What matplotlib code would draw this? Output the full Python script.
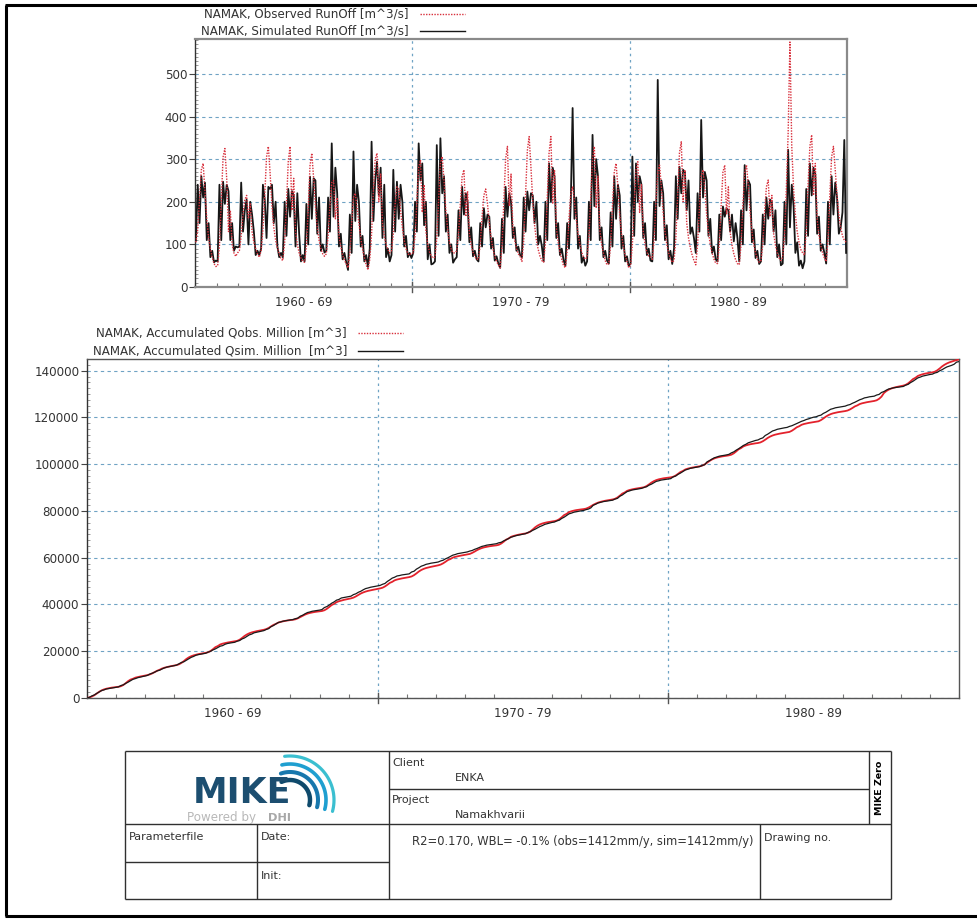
import numpy as np
import matplotlib
matplotlib.use("Agg")
import matplotlib.pyplot as plt
from matplotlib import transforms
from matplotlib.ticker import MultipleLocator

plt.rcParams["font.family"] = ["DejaVu Sans"]

# ---------------------------------------------------------------------------
# Data: monthly mean runoff at NAMAK [m^3/s], one row per year (Jan..Dec)
# ---------------------------------------------------------------------------
years = list(range(1960, 1990))
decade_labels = ["1960 - 69", "1970 - 79", "1980 - 89"]

obs_runoff = [
    [105, 135, 205, 275, 290, 225, 160, 115, 90, 70, 55, 48],    # 1960
    [50, 95, 200, 305, 325, 255, 130, 180, 100, 80, 72, 80],     # 1961
    [85, 120, 170, 205, 215, 160, 195, 130, 105, 90, 78, 70],    # 1962
    [85, 135, 215, 305, 330, 265, 190, 140, 110, 92, 78, 66],    # 1963
    [62, 105, 195, 295, 330, 180, 255, 130, 100, 80, 68, 60],    # 1964
    [58, 95, 180, 285, 314, 255, 190, 140, 110, 90, 78, 72],     # 1965
    [78, 120, 190, 245, 250, 160, 210, 120, 95, 75, 62, 55],     # 1966
    [45, 80, 150, 210, 220, 185, 150, 115, 90, 70, 52, 40],      # 1967
    [65, 125, 225, 300, 314, 200, 265, 150, 120, 100, 88, 80],   # 1968
    [85, 125, 195, 235, 230, 180, 140, 110, 90, 78, 75, 80],     # 1969
    [80, 120, 200, 280, 298, 175, 240, 130, 100, 82, 72, 68],    # 1970
    [70, 115, 205, 290, 306, 250, 180, 135, 105, 88, 80, 80],    # 1971
    [85, 125, 195, 260, 275, 165, 225, 125, 98, 82, 72, 65],     # 1972
    [65, 100, 165, 215, 230, 195, 150, 115, 90, 72, 60, 52],     # 1973
    [45, 95, 200, 300, 330, 190, 265, 140, 110, 90, 78, 72],     # 1974
    [60, 110, 215, 320, 353, 280, 200, 145, 110, 88, 72, 62],    # 1975
    [58, 105, 210, 315, 353, 195, 275, 140, 105, 82, 65, 50],    # 1976
    [45, 85, 160, 220, 235, 200, 160, 125, 100, 82, 70, 65],     # 1977
    [70, 120, 210, 300, 330, 185, 260, 135, 100, 80, 62, 52],    # 1978
    [55, 100, 190, 270, 290, 235, 170, 125, 95, 75, 60, 45],     # 1979
    [50, 100, 195, 275, 294, 175, 240, 130, 100, 82, 72, 70],    # 1980
    [65, 110, 200, 270, 286, 235, 175, 130, 100, 80, 66, 58],    # 1981
    [62, 115, 215, 315, 341, 200, 275, 150, 115, 92, 75, 62],    # 1982
    [52, 100, 185, 260, 275, 230, 170, 128, 100, 80, 66, 56],    # 1983
    [55, 100, 190, 270, 286, 172, 235, 128, 98, 78, 64, 55],     # 1984
    [52, 100, 190, 268, 286, 238, 176, 130, 100, 80, 65, 58],    # 1985
    [62, 100, 175, 235, 251, 165, 215, 125, 98, 80, 68, 62],     # 1986
    [70, 120, 230, 360, 575, 330, 230, 170, 130, 105, 88, 80],   # 1987
    [75, 130, 240, 330, 357, 215, 290, 160, 122, 98, 80, 68],    # 1988
    [60, 110, 215, 305, 330, 275, 215, 170, 140, 120, 110, 105], # 1989
]

sim_runoff = [
    [110, 240, 150, 260, 210, 245, 110, 150, 70, 85, 58, 62],    # 1960
    [60, 240, 110, 247, 195, 240, 225, 110, 150, 85, 95, 93],    # 1961
    [95, 245, 130, 180, 205, 100, 200, 170, 130, 75, 85, 75],    # 1962
    [90, 240, 205, 115, 235, 230, 240, 150, 200, 95, 70, 80],    # 1963
    [70, 200, 120, 230, 165, 225, 215, 95, 220, 125, 60, 75],    # 1964
    [60, 195, 100, 259, 160, 255, 250, 125, 210, 85, 100, 81],   # 1965
    [85, 210, 130, 337, 165, 280, 220, 95, 125, 65, 80, 58],     # 1966
    [40, 170, 80, 318, 155, 240, 200, 95, 120, 60, 75, 47],      # 1967
    [90, 341, 155, 250, 294, 215, 280, 115, 240, 70, 90, 60],    # 1968
    [75, 275, 130, 247, 160, 240, 200, 95, 120, 70, 80, 68],     # 1969
    [80, 200, 130, 337, 250, 290, 145, 200, 65, 100, 53, 55],    # 1970
    [60, 333, 120, 349, 220, 260, 130, 170, 80, 100, 57, 65],    # 1971
    [70, 180, 110, 235, 170, 220, 200, 105, 140, 72, 85, 65],    # 1972
    [60, 150, 95, 185, 140, 170, 165, 90, 115, 62, 72, 55],      # 1973
    [45, 160, 80, 235, 165, 220, 200, 115, 140, 85, 95, 75],     # 1974
    [70, 210, 130, 224, 180, 220, 215, 150, 200, 100, 120, 96],  # 1975
    [60, 200, 110, 290, 200, 280, 260, 115, 150, 75, 90, 63],    # 1976
    [50, 150, 90, 200, 420, 160, 210, 90, 120, 57, 70, 50],      # 1977
    [60, 200, 110, 357, 190, 300, 260, 110, 140, 70, 85, 62],    # 1978
    [55, 175, 95, 259, 160, 240, 215, 90, 120, 60, 72, 49],      # 1979
    [55, 306, 120, 290, 200, 260, 240, 115, 150, 75, 90, 62],    # 1980
    [60, 200, 110, 486, 190, 250, 220, 110, 145, 65, 85, 54],    # 1981
    [90, 260, 160, 282, 220, 275, 270, 180, 250, 125, 140, 115], # 1982
    [80, 220, 130, 392, 210, 270, 250, 120, 160, 80, 95, 65],    # 1983
    [60, 170, 110, 189, 165, 185, 180, 130, 170, 107, 150, 115], # 1984
    [60, 180, 100, 286, 180, 250, 240, 105, 135, 68, 85, 54],    # 1985
    [60, 170, 100, 210, 160, 205, 200, 130, 180, 70, 100, 51],   # 1986
    [55, 200, 100, 322, 140, 240, 190, 80, 105, 50, 62, 44],     # 1987
    [60, 230, 120, 290, 215, 280, 265, 125, 165, 85, 100, 80],   # 1988
    [55, 200, 100, 260, 170, 245, 210, 125, 140, 175, 345, 80],  # 1989
]

runoff_ticks = [0, 100, 200, 300, 400, 500]
volume_ticks = [0, 20000, 40000, 60000, 80000, 100000, 120000, 140000]

stats_text = "R2=0.170, WBL= -0.1% (obs=1412mm/y, sim=1412mm/y)"

# ---------------------------------------------------------------------------
# Derived series
# ---------------------------------------------------------------------------
obs = np.array(obs_runoff, dtype=float).ravel()
sim = np.array(sim_runoff, dtype=float).ravel()
n = obs.size
t0 = years[0]
t_mid = t0 + (np.arange(n) + 0.5) / 12.0
t_edge = t0 + np.arange(n + 1) / 12.0

months = np.arange(f"{years[0]}-01", f"{years[-1] + 1}-01", dtype="datetime64[M]")
days = ((months + 1).astype("datetime64[D]") - months.astype("datetime64[D]")).astype(int)
to_mcm = days * 86400.0 / 1e6
acc_obs = np.concatenate([[0.0], np.cumsum(obs * to_mcm)])
acc_sim = np.concatenate([[0.0], np.cumsum(sim * to_mcm)])

# ---------------------------------------------------------------------------
# Figure
# ---------------------------------------------------------------------------
W, H = 978, 919
fig = plt.figure(figsize=(W / 100, H / 100), dpi=100)
fig.patch.set_facecolor("white")


def px_axes(x0, y0, x1, y1):
    return fig.add_axes([x0 / W, 1 - y1 / H, (x1 - x0) / W, (y1 - y0) / H])


TXT = "#333333"
GRID = "#6fa3c4"
FS = 8.6
x_lo, x_hi = years[0], years[-1] + 1
decade_edges = list(range(x_lo, x_hi + 1, 10))
decade_mids = [d + 5 for d in decade_edges[:-1]]


def style_time_axis(ax, ymax, yticks, yminor, spine_col, spine_lw, height_px):
    ax.set_xlim(x_lo, x_hi)
    ax.set_ylim(0, ymax)
    ax.set_yticks(yticks)
    ax.yaxis.set_minor_locator(MultipleLocator(yminor))
    ax.set_xticks(decade_mids)
    ax.set_xticklabels(decade_labels)
    ax.xaxis.set_minor_locator(MultipleLocator(1))
    ax.tick_params(axis="x", which="major", length=0, pad=6.5, labelsize=FS, labelcolor=TXT)
    ax.tick_params(axis="x", which="minor", direction="in", length=3, color="#777777", width=0.8)
    ax.tick_params(axis="y", which="major", direction="out", length=4, pad=1.5,
                   labelsize=FS, labelcolor=TXT, color="#444444")
    ax.tick_params(axis="y", which="minor", direction="in", length=2, color="#888888", width=0.6)
    ax.yaxis.grid(True, which="major", color=GRID, linestyle=(0, (3, 3)), linewidth=0.8)
    ax.set_axisbelow(True)
    frac = 5.0 / height_px
    trans = transforms.blended_transform_factory(ax.transData, ax.transAxes)
    for d in decade_edges[1:-1]:
        ax.axvline(d, color=GRID, linestyle=(0, (2, 3)), linewidth=0.9, zorder=0.5)
        ax.plot([d, d], [-frac, frac], transform=trans, color="#555555",
                linewidth=1.0, clip_on=False)
    for side in ("top", "right", "bottom"):
        ax.spines[side].set_color(spine_col)
        ax.spines[side].set_linewidth(spine_lw)
    ax.spines["left"].set_color("#333333")
    ax.spines["left"].set_linewidth(1.0)


# --- upper panel: runoff -----------------------------------------------------
ax1 = px_axes(195, 39, 847, 287)
ax1.plot(t_mid, sim, color="#161616", linewidth=1.3, zorder=3)
ax1.plot(t_mid, obs, color="#d8303c", linewidth=1.0, linestyle=(0, (1, 1)), zorder=4)
style_time_axis(ax1, 582, runoff_ticks, 10, "#8a8a8a", 1.6, 248)

# --- lower panel: accumulated volumes ----------------------------------------
ax2 = px_axes(87, 359, 959, 698)
ax2.plot(t_edge, acc_obs, color="#e3222c", linewidth=1.3, zorder=3)
ax2.plot(t_edge, acc_sim, color="#1a1a1a", linewidth=0.9, zorder=4)
style_time_axis(ax2, 145000, volume_ticks, 2500, "#555555", 1.0, 339)

# --- overlay in pixel coordinates: legends, frame and title block ----------
ov = fig.add_axes([0, 0, 1, 1], zorder=10)
ov.set_xlim(0, W)
ov.set_ylim(H, 0)
ov.axis("off")
ov.patch.set_alpha(0)


def legend_row(x_text_right, y, label, x0, x1, color, ls, lw):
    ov.text(x_text_right, y, label, ha="right", va="center", fontsize=FS, color=TXT)
    ov.plot([x0, x1], [y, y], color=color, linestyle=ls, linewidth=lw)


legend_row(409, 14, "NAMAK, Observed RunOff [m^3/s]", 420, 465, "#d8303c", (0, (1, 1)), 1.0)
legend_row(409, 31, "NAMAK, Simulated RunOff [m^3/s]", 420, 465, "#161616", "-", 1.0)
legend_row(347, 333, "NAMAK, Accumulated Qobs. Million [m^3]", 358, 403, "#d8303c", (0, (1, 1)), 1.0)
legend_row(347, 351, "NAMAK, Accumulated Qsim. Million  [m^3]", 358, 403, "#161616", "-", 1.0)

# page frame
ov.plot([6, 6], [5, 916], color="black", linewidth=2.2, solid_capstyle="butt")
ov.plot([5, 978], [5, 5], color="black", linewidth=2.2, solid_capstyle="butt")
ov.plot([5, 978], [916, 916], color="black", linewidth=2.2, solid_capstyle="butt")

# title block grid
LC = "#303030"
def seg(x0, y0, x1, y1, lw=1.0):
    ov.plot([x0, x1], [y0, y1], color=LC, linewidth=lw, solid_capstyle="butt")

seg(125, 751, 891, 751)
seg(125, 899, 891, 899)
seg(125, 751, 125, 899)
seg(891, 751, 891, 899)
seg(125, 824, 891, 824)
seg(125, 862, 389, 862)
seg(257, 824, 257, 899)
seg(389, 751, 389, 899)
seg(389, 789, 869, 789)
seg(869, 751, 869, 824)
seg(760, 824, 760, 899)

tfs = 8.0
ov.text(392, 763, "Client", fontsize=tfs, color=TXT, va="center")
ov.text(455, 778, "ENKA", fontsize=tfs, color=TXT, va="center")
ov.text(392, 800, "Project", fontsize=tfs, color=TXT, va="center")
ov.text(455, 815, "Namakhvarii", fontsize=tfs, color=TXT, va="center")
ov.text(129, 837, "Parameterfile", fontsize=tfs, color=TXT, va="center")
ov.text(261, 837, "Date:", fontsize=tfs, color=TXT, va="center")
ov.text(261, 876, "Init:", fontsize=tfs, color=TXT, va="center")
ov.text(764, 838, "Drawing no.", fontsize=tfs, color=TXT, va="center")
ov.text(583, 842, stats_text, fontsize=8.3, color=TXT, va="center", ha="center")
ov.text(880, 788, "MIKE Zero", fontsize=6.8, fontweight="bold", color="black",
        rotation=90, ha="center", va="center")

# MIKE logo
ov.text(242, 803, "MIKE", fontsize=25, fontweight="bold", color="#1c4e70",
        ha="center", va="baseline")
ov.text(187, 818, "Powered by", fontsize=8.6, color="#b8b8b8", va="center")
ov.text(268, 818, "DHI", fontsize=8.2, fontweight="bold", color="#a8a8a8", va="center")
wave_cols = ["#0f4a6c", "#1878ad", "#1f9fd0", "#3bbfd0"]
for k, (r, c) in enumerate(zip([20, 28, 36, 44], wave_cols)):
    ang = np.radians(np.linspace(-15, 115 - 6 * k, 40))
    ov.plot(290 + r * np.cos(ang), 800 - r * np.sin(ang), color=c,
            linewidth=3.2 - 0.3 * k, solid_capstyle="round")

fig.savefig("out.png", dpi=100, facecolor="white")
